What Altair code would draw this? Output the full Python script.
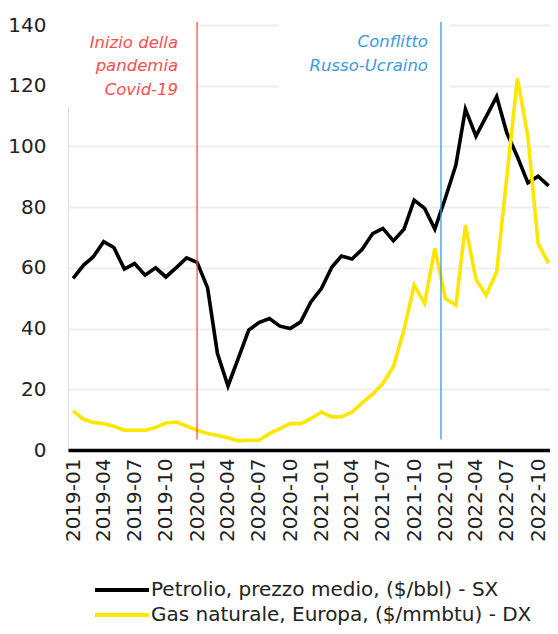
import altair as alt
import pandas as pd

months = [f"{y}-{m:02d}" for y in range(2019, 2023) for m in range(1, 13)][:47]

oil = [56.5, 60.9, 63.6, 68.6, 66.7, 59.6, 61.4, 57.6, 60.0, 57.0, 60.1, 63.3,
       61.8, 53.4, 31.8, 21.1, 30.1, 39.5, 42.0, 43.3, 40.8, 40.0, 42.2, 48.8,
       53.2, 60.3, 63.9, 62.9, 66.1, 71.3, 73.0, 68.9, 72.7, 82.3, 79.6, 72.8,
       83.0, 93.9, 112.3, 103.4, 109.8, 116.4, 104.4, 96.6, 88.0, 90.2, 87.0]

gas = [12.9, 10.1, 9.1, 8.7, 7.8, 6.5, 6.5, 6.5, 7.4, 8.9, 9.2, 7.9,
       6.5, 5.4, 4.8, 4.0, 3.0, 3.2, 3.2, 5.4, 7.0, 8.7, 8.7, 10.3,
       12.5, 10.9, 10.9, 12.5, 15.5, 18.4, 21.9, 27.4, 39.5, 54.3, 48.3, 66.4,
       49.9, 47.7, 74.1, 56.2, 51.0, 58.7, 90.0, 122.4, 103.2, 68.0, 61.5]

series = ["Petrolio, prezzo medio, ($/bbl) - SX", "Gas naturale, Europa, ($/mmbtu) - DX"]
series_colors = ["#000000", "#FFE600"]

tick_labels = ["2019-01", "2019-04", "2019-07", "2019-10", "2020-01", "2020-04",
               "2020-07", "2020-10", "2021-01", "2021-04", "2021-07", "2021-10",
               "2022-01", "2022-04", "2022-07", "2022-10"]
y_ticks = [0, 20, 40, 60, 80, 100, 120, 140]

event_dates = ["2020-01-01", "2021-12-19"]
event_colors = ["#FF4D4D", "#3A9BE0"]
event_texts = [["Inizio della", "pandemia", "Covid-19"], ["Conflitto", "Russo-Ucraino"]]
event_text_y = [134.1, 134.4]
event_dx = [-19, -13]
box_start = ["2018-12-17", "2020-08-27"]
box_end = ["2019-12-29", "2022-01-15"]

rows = []
for s, vals in zip(series, [oil, gas]):
    for m, v in zip(months, vals):
        rows.append({"date": m + "-01", "serie": s, "value": v})
df = pd.DataFrame(rows)

FONT = "DejaVu Sans"

xdomain = [alt.DateTime(year=2018, month=12, date=17, utc=True),
           alt.DateTime(year=2022, month=11, date=5, utc=True)]
tick_values = [alt.DateTime(year=int(t[:4]), month=int(t[5:]), date=1, utc=True) for t in tick_labels]

xscale = alt.Scale(type="utc", domain=xdomain)
yscale = alt.Scale(domain=[0, 140])

x_axis = alt.Axis(values=tick_values, labelExpr="utcFormat(datum.value, '%Y-%m')",
                  labelAngle=-90, labelFont=FONT, labelFontSize=20,
                  labelColor="#222222", labelPadding=8, ticks=False,
                  domainColor="#000000", domainWidth=3.5, grid=False,
                  labelOverlap=False)
y_axis = alt.Axis(values=y_ticks, labelFont=FONT, labelFontSize=20,
                  labelColor="#222222", labelPadding=22, ticks=False,
                  domain=False, grid=True, gridColor="#EEEEEE", gridWidth=2)


def X(field):
    return alt.X(field, scale=xscale, title=None, axis=x_axis)


def Y(field):
    return alt.Y(field, scale=yscale, title=None, axis=y_axis)


boxes = pd.DataFrame({"x": box_start, "x2": box_end, "y": [113, 113], "y2": [141, 141]})
box_layer = alt.Chart(boxes).mark_rect(color="white").encode(
    x=X("x:T"), x2="x2:T", y=Y("y:Q"), y2="y2:Q",
)

lines = alt.Chart(df).mark_line(strokeWidth=3.6, clip=True).encode(
    x=X("date:T"),
    y=Y("value:Q"),
    color=alt.Color("serie:N", sort=series,
                    scale=alt.Scale(domain=series, range=series_colors),
                    legend=alt.Legend(title=None, orient="none", legendX=25, legendY=553,
                                      direction="vertical", symbolType="stroke",
                                      symbolSize=2916, symbolStrokeWidth=4,
                                      clipHeight=24,
                                      labelFont=FONT, labelFontSize=20, labelColor="#222222",
                                      labelOffset=0, rowPadding=1, padding=0,
                                      labelLimit=500)),
)

ev = pd.DataFrame({"date": event_dates, "color": event_colors, "y": [3.5, 3.5], "y2": [141, 141]})
vlines = alt.Chart(ev).mark_rule(strokeWidth=1.3).encode(
    x=X("date:T"),
    y=Y("y:Q"), y2="y2:Q",
    color=alt.Color("color:N", scale=None),
)

texts = []
for d, c, t, ty, dx in zip(event_dates, event_colors, event_texts, event_text_y, event_dx):
    tdf = pd.DataFrame({"date": [d], "y": [ty], "label": [t]})
    texts.append(alt.Chart(tdf).mark_text(align="right", baseline="middle", dx=dx,
                                          font=FONT, fontSize=16.5, fontStyle="italic",
                                          color=c, lineHeight=23.5).encode(
        x=X("date:T"), y=Y("y:Q"), text="label"))

chart = alt.layer(box_layer, lines, vlines, *texts).properties(
    width=482, height=425,
    autosize=alt.AutoSizeParams(type="none"),
    padding={"left": 60, "top": 17, "right": 0, "bottom": 176},
).configure_view(stroke=None).configure(background="white")

chart.save("out.html", embed_options={"renderer": "svg", "actions": False})
